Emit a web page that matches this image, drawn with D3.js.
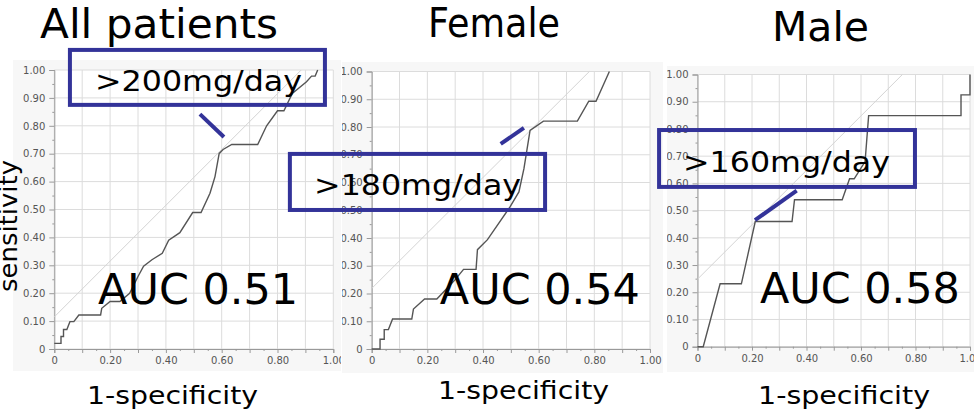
<!DOCTYPE html>
<html>
<head>
<meta charset="utf-8">
<script src="https://cdn.jsdelivr.net/npm/d3@7"></script>
<style>
body { margin: 0; background: #fff; }
svg { display: block; }
text { font-family: "DejaVu Sans", Verdana, sans-serif; }
</style>
</head>
<body>
<svg id="chart" width="974" height="419"></svg>
<script>
// ---- data ----
const panelTitles = ["All patients", "Female", "Male"];
const aucValues = [0.51, 0.54, 0.58];
const cutoffLabels = [">200mg/day", ">180mg/day", ">160mg/day"];
const cutoffFpr = [0.595, 0.57, 0.212];
const cutoffTpr = [0.71, 0.788, 0.46];

const allFpr = [0, 0.024, 0.024, 0.033, 0.033, 0.045, 0.056, 0.07, 0.088, 0.166, 0.17, 0.2, 0.235, 0.27, 0.30, 0.32, 0.35, 0.387, 0.41, 0.45, 0.496, 0.526, 0.558, 0.576, 0.591, 0.605, 0.636, 0.729, 0.761, 0.80, 0.823, 0.853, 0.904, 0.922, 0.935, 0.944];
const allTpr = [0.02, 0.02, 0.045, 0.045, 0.07, 0.07, 0.098, 0.098, 0.122, 0.122, 0.146, 0.17, 0.17, 0.2, 0.26, 0.297, 0.32, 0.343, 0.39, 0.417, 0.489, 0.489, 0.558, 0.618, 0.701, 0.715, 0.733, 0.733, 0.80, 0.854, 0.854, 0.916, 0.958, 0.978, 0.978, 1.0];

const femaleFpr = [0, 0.03, 0.03, 0.045, 0.045, 0.06, 0.075, 0.144, 0.15, 0.19, 0.234, 0.27, 0.30, 0.33, 0.375, 0.38, 0.416, 0.497, 0.529, 0.547, 0.569, 0.617, 0.739, 0.78, 0.806, 0.854];
const femaleTpr = [0, 0, 0.035, 0.035, 0.07, 0.07, 0.108, 0.108, 0.144, 0.18, 0.18, 0.218, 0.25, 0.287, 0.287, 0.358, 0.394, 0.512, 0.566, 0.65, 0.788, 0.821, 0.821, 0.893, 0.893, 1.0];

const maleFpr = [0, 0.021, 0.083, 0.161, 0.212, 0.347, 0.356, 0.531, 0.558, 0.575, 0.615, 0.628, 0.967, 0.967, 1.0, 1.0];
const maleTpr = [0, 0, 0.231, 0.231, 0.46, 0.46, 0.54, 0.54, 0.617, 0.617, 0.68, 0.849, 0.849, 0.925, 0.925, 1.0];

const xTickValues = [0, 0.2, 0.4, 0.6, 0.8, 1.0];
const yTickValues = [0, 0.1, 0.2, 0.3, 0.4, 0.5, 0.6, 0.7, 0.8, 0.9, 1.0];
const xAxisTitle = "1-specificity";
const yAxisTitle = "sensitivity";

// ---- layout (pixels, and annotation spots in each panel's data space) ----
const layout = [
    { plot: [54.3, 70, 333.3, 349], bg: [13, 60, 341, 371], clip: [0, 0, 341, 419],
      title: [40, 38, 238], xlab: [87, 404, 171],
      box: [0.056, 1.072, 0.970, 0.875], boxText: [0.146, 0.925], link: [0.522, 0.842, 0.608, 0.76], auc: [0.157, 0.161] },
    { plot: [371.7, 71.5, 650, 349], bg: [342, 62, 663, 373], clip: [342, 0, 667, 419],
      title: [428, 37, 132], xlab: [438, 399, 171],
      box: [-0.294, 0.703, 0.623, 0.501], boxText: [-0.207, 0.555], link: [0.4635, 0.739, 0.547, 0.797], auc: [0.245, 0.162] },
    { plot: [697.5, 74.5, 970, 346.7], bg: [667, 66, 974, 372], clip: [667, 0, 974, 419],
      title: [772, 41, 97], xlab: [758, 404, 172],
      box: [-0.141, 0.796, 0.798, 0.587], boxText: [-0.053, 0.642], link: [0.364, 0.573, 0.211, 0.465], auc: [0.229, 0.16] }
];

const curves = [
    { fpr: allFpr, tpr: allTpr },
    { fpr: femaleFpr, tpr: femaleTpr },
    { fpr: maleFpr, tpr: maleTpr }
];

const blue = "#333399";
const svg = d3.select("#chart");
const defs = svg.append("defs");
const tickFmt = d => d === 0 ? "0" : d3.format(".2f")(d);
const minorX = d3.range(0.05, 1, 0.1);
const minorY = d3.range(0.05, 1, 0.1);

const annotations = svg.append("g").attr("class", "annotations");

layout.forEach((L, i) => {
    const [x0, y0, x1, y1] = L.plot;
    const xScale = d3.scaleLinear().domain([0, 1]).range([x0, x1]);
    const yScale = d3.scaleLinear().domain([0, 1]).range([y1, y0]);

    defs.append("clipPath").attr("id", "clip" + i)
        .append("rect")
        .attr("x", L.clip[0]).attr("y", L.clip[1])
        .attr("width", L.clip[2] - L.clip[0]).attr("height", L.clip[3] - L.clip[1]);

    const g = svg.append("g").attr("clip-path", `url(#clip${i})`);

    g.append("rect")
        .attr("x", L.bg[0]).attr("y", L.bg[1])
        .attr("width", L.bg[2] - L.bg[0]).attr("height", L.bg[3] - L.bg[1])
        .attr("fill", "#f7f7f7");
    g.append("rect")
        .attr("x", x0).attr("y", y0)
        .attr("width", x1 - x0).attr("height", y1 - y0)
        .attr("fill", "#fff");

    // grid
    const grid = d3.range(0, 1.0001, 0.1);
    g.append("g").selectAll("line").data(grid).join("line")
        .attr("x1", d => xScale(d)).attr("x2", d => xScale(d))
        .attr("y1", y0).attr("y2", y1)
        .attr("stroke", "#dcdcdc").attr("stroke-width", 1);
    g.append("g").selectAll("line").data(grid).join("line")
        .attr("x1", x0).attr("x2", x1)
        .attr("y1", d => yScale(d)).attr("y2", d => yScale(d))
        .attr("stroke", "#dcdcdc").attr("stroke-width", 1);

    // axes
    const xAxis = d3.axisBottom(xScale).tickValues(d3.range(0, 1.0001, 0.1)).tickSize(4)
        .tickFormat(d => xTickValues.some(v => Math.abs(v - d) < 1e-6) ? tickFmt(d) : "");
    const xg = g.append("g").attr("transform", `translate(0,${y1})`).call(xAxis);
    g.append("g").attr("transform", `translate(0,${y1})`)
        .call(d3.axisBottom(xScale).tickValues(minorX).tickSize(2).tickFormat(""))
        .call(s => s.select(".domain").remove());

    const yAxis = d3.axisLeft(yScale).tickValues(yTickValues).tickSize(5).tickFormat(tickFmt);
    const yg = g.append("g").attr("transform", `translate(${x0},0)`).call(yAxis);
    g.append("g").attr("transform", `translate(${x0},0)`)
        .call(d3.axisLeft(yScale).tickValues(minorY).tickSize(2).tickFormat(""))
        .call(s => s.select(".domain").remove());

    g.selectAll(".domain").attr("stroke", "#999");
    g.selectAll(".tick line").attr("stroke", "#999");
    xg.selectAll("text")
        .attr("y", 8)
        .attr("fill", "#555")
        .style("font-family", "'DejaVu Sans', Verdana, sans-serif")
        .style("font-size", "10px");
    yg.selectAll("text")
        .attr("x", -9)
        .attr("fill", "#555")
        .style("font-family", "'DejaVu Sans', Verdana, sans-serif")
        .style("font-size", "10px");

    // iso-Youden line through the cutoff
    const k = cutoffTpr[i] - cutoffFpr[i];
    g.append("line")
        .attr("x1", xScale(0)).attr("y1", yScale(k))
        .attr("x2", xScale(1 - k)).attr("y2", yScale(1))
        .attr("stroke", "#d4d4d4").attr("stroke-width", 1);

    // ROC curve
    const pts = curves[i].fpr.map((f, j) => ({ x: f, y: curves[i].tpr[j] }));
    const line = d3.line().x(d => xScale(d.x)).y(d => yScale(d.y));
    g.append("path")
        .attr("d", line(pts))
        .attr("fill", "none")
        .attr("stroke", "#555")
        .attr("stroke-width", 1.4);

    // titles
    svg.append("text")
        .attr("x", L.title[0]).attr("y", L.title[1])
        .attr("textLength", L.title[2]).attr("lengthAdjust", "spacingAndGlyphs")
        .style("font-size", "40px").attr("fill", "#000")
        .text(panelTitles[i]);
    svg.append("text")
        .attr("x", L.xlab[0]).attr("y", L.xlab[1])
        .attr("textLength", L.xlab[2]).attr("lengthAdjust", "spacingAndGlyphs")
        .style("font-size", "24px").attr("fill", "#000")
        .text(xAxisTitle);

    // AUC
    annotations.append("text")
        .attr("x", xScale(L.auc[0])).attr("y", yScale(L.auc[1]))
        .attr("textLength", 200).attr("lengthAdjust", "spacingAndGlyphs")
        .style("font-size", "42px").attr("fill", "#000")
        .text("AUC " + aucValues[i].toFixed(2));

    // cutoff box + connector
    annotations.append("rect")
        .attr("x", xScale(L.box[0])).attr("y", yScale(L.box[1]))
        .attr("width", xScale(L.box[2]) - xScale(L.box[0]))
        .attr("height", yScale(L.box[3]) - yScale(L.box[1]))
        .attr("fill", "none").attr("stroke", blue).attr("stroke-width", 4);
    annotations.append("text")
        .attr("x", xScale(L.boxText[0])).attr("y", yScale(L.boxText[1]))
        .attr("textLength", 207).attr("lengthAdjust", "spacingAndGlyphs")
        .style("font-size", "29px").attr("fill", "#000")
        .text(cutoffLabels[i]);
    annotations.append("line")
        .attr("x1", xScale(L.link[0])).attr("y1", yScale(L.link[1]))
        .attr("x2", xScale(L.link[2])).attr("y2", yScale(L.link[3]))
        .attr("stroke", blue).attr("stroke-width", 4);
});

svg.append("text")
    .attr("transform", "translate(17,226) rotate(-90)")
    .attr("text-anchor", "middle")
    .attr("textLength", 132).attr("lengthAdjust", "spacingAndGlyphs")
    .style("font-size", "24px").attr("fill", "#000")
    .text(yAxisTitle);

annotations.raise();
</script>
</body>
</html>
